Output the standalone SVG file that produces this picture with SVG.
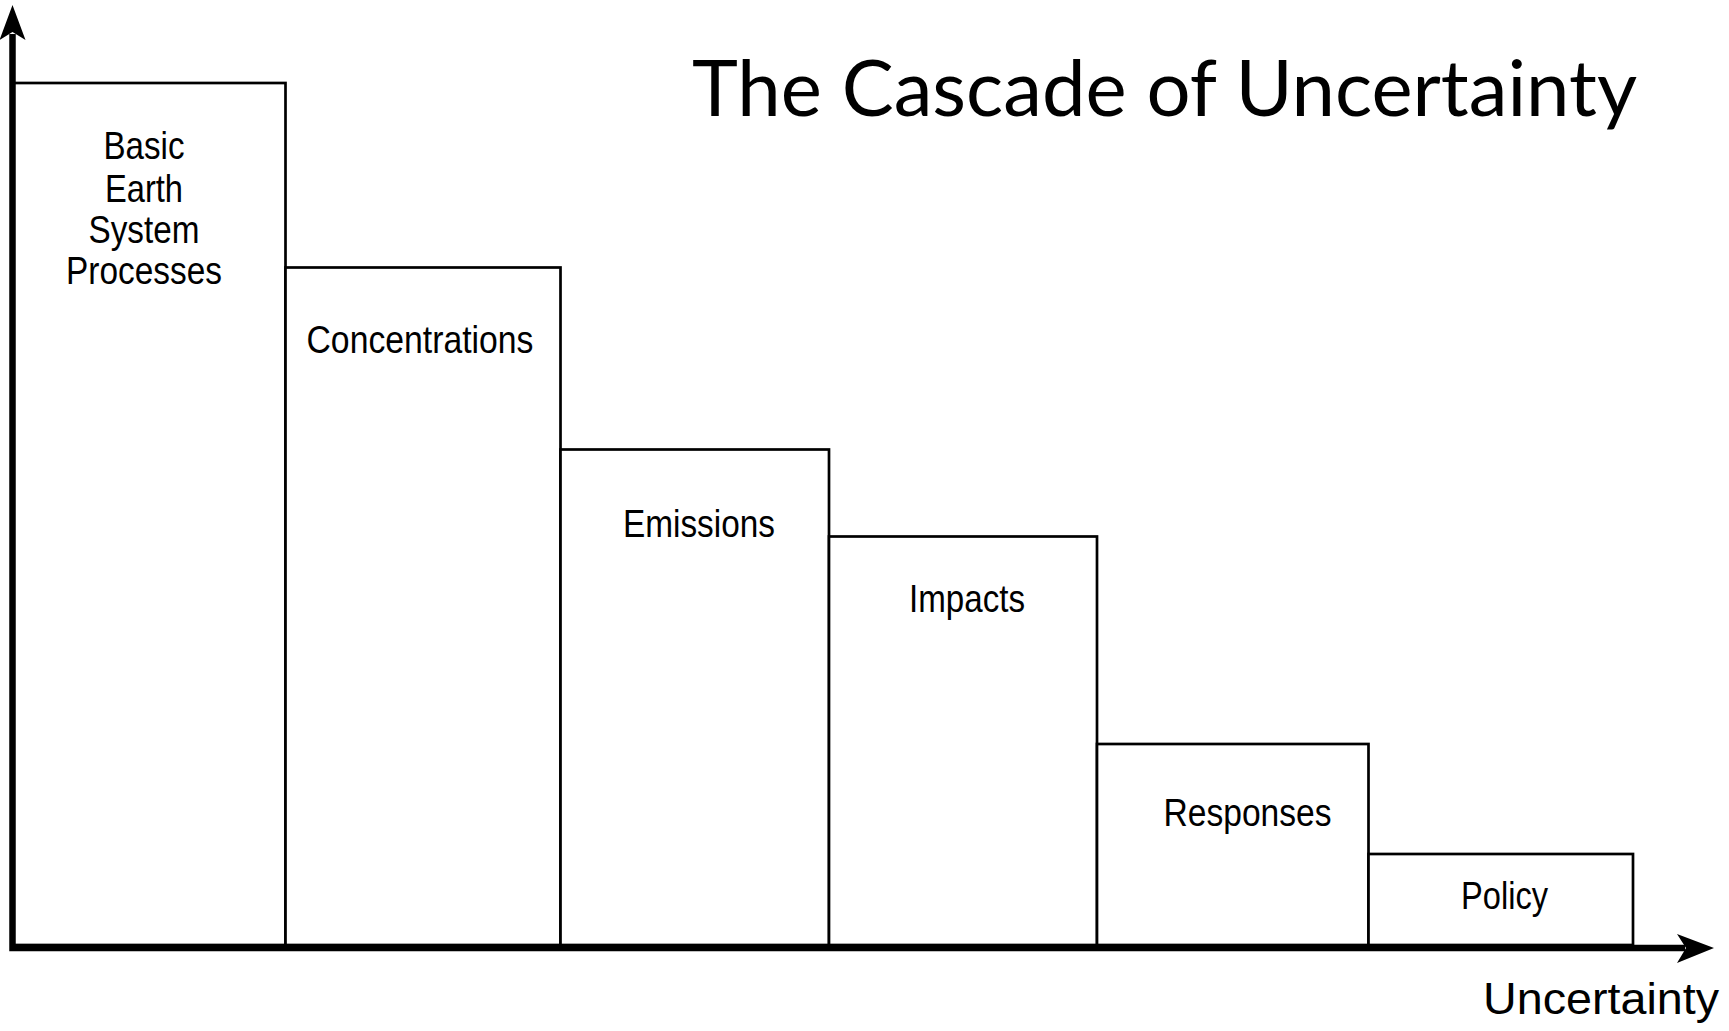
<svg xmlns="http://www.w3.org/2000/svg" width="1729" height="1031" viewBox="0 0 1729 1031">
<style>
.box{fill:#fff;stroke:#000;stroke-width:2.7}
.lbl{font-family:"Liberation Sans",Arial,sans-serif;font-size:39px;fill:#000;text-anchor:middle}
.title{font-family:Lato,"Open Sans",sans-serif;font-size:77px;fill:#000}
.axis{fill:none;stroke:#000;stroke-width:6.5;stroke-linejoin:miter;stroke-linecap:butt}
</style>
<rect width="1729" height="1031" fill="#fff"/>
<g id="title"><text class="title" x="692" y="116" textLength="945" lengthAdjust="spacingAndGlyphs">The Cascade of Uncertainty</text></g>
<g id="node-basic">
<rect class="box" x="12.5" y="83" width="273" height="862"/>
<text class="lbl" x="144" y="159" textLength="81" lengthAdjust="spacingAndGlyphs">Basic</text>
<text class="lbl" x="144" y="201.5" textLength="78" lengthAdjust="spacingAndGlyphs">Earth</text>
<text class="lbl" x="144" y="242.5" textLength="111" lengthAdjust="spacingAndGlyphs">System</text>
<text class="lbl" x="144" y="284" textLength="156" lengthAdjust="spacingAndGlyphs">Processes</text>
</g>
<g id="node-concentrations">
<rect class="box" x="285.5" y="267.5" width="275" height="677.5"/>
<text class="lbl" x="420" y="353" textLength="227" lengthAdjust="spacingAndGlyphs">Concentrations</text>
</g>
<g id="node-emissions">
<rect class="box" x="560.5" y="449.5" width="268.5" height="495.5"/>
<text class="lbl" x="699" y="537" textLength="152" lengthAdjust="spacingAndGlyphs">Emissions</text>
</g>
<g id="node-impacts">
<rect class="box" x="829" y="536.5" width="268" height="408.5"/>
<text class="lbl" x="967" y="612" textLength="116" lengthAdjust="spacingAndGlyphs">Impacts</text>
</g>
<g id="node-responses">
<rect class="box" x="1097" y="744" width="271.5" height="201"/>
<text class="lbl" x="1247.5" y="825.5" textLength="168" lengthAdjust="spacingAndGlyphs">Responses</text>
</g>
<g id="node-policy">
<rect class="box" x="1368.5" y="854" width="264.5" height="91"/>
<text class="lbl" x="1504.5" y="909" textLength="87" lengthAdjust="spacingAndGlyphs">Policy</text>
</g>
<g id="connectors">
<path class="axis" d="M12.5,34 L12.5,948 L1685,948"/>
<path d="M12.5,5 L25.5,40 L12.5,32 L-0.5,40 Z" fill="#000"/>
<path d="M1714,948 L1677,934 L1686,948 L1677,963 Z" fill="#000"/>
</g>
<g id="axis-label"><text class="lbl" x="1601" y="1014" style="font-size:44px" textLength="236" lengthAdjust="spacingAndGlyphs">Uncertainty</text></g>
</svg>
